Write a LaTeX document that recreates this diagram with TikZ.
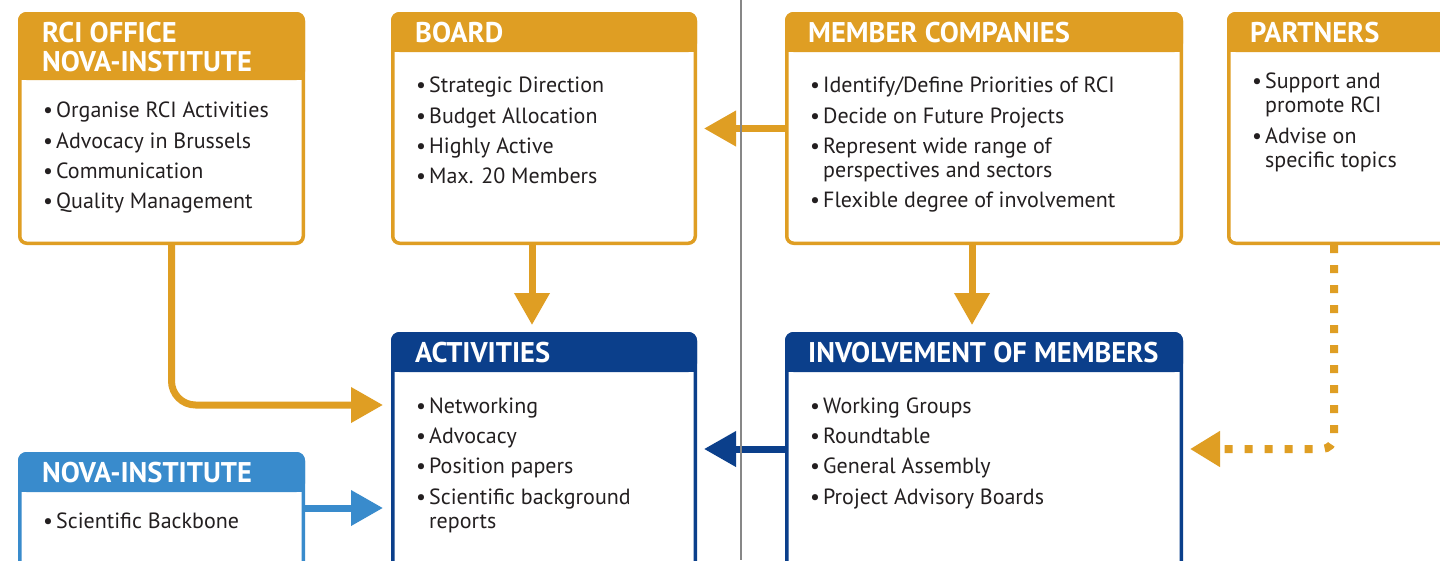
\documentclass[tikz,border=0pt]{standalone}
\usepackage{fontspec}
\setmainfont{PT Sans}
\usetikzlibrary{calc,arrows.meta}
\definecolor{gold}{RGB}{223,158,35}
\definecolor{navy}{RGB}{11,63,139}
\definecolor{sky}{RGB}{57,139,204}
\definecolor{ink}{RGB}{35,31,32}
\definecolor{rulegray}{RGB}{135,135,135}
\tikzset{
  frame/.style={draw=#1, line width=3.5pt, rounded corners=7pt, fill=white, rectangle, inner sep=0pt, anchor=north west},
  head/.style={font=\fontsize{28.5}{30}\selectfont\bfseries, text=white, anchor=base west, inner sep=0pt},
  itm/.style={font=\fontsize{22}{24}\selectfont, text=ink, anchor=base west, inner sep=0pt},
  link/.style={line width=7pt, -{Triangle[length=32pt,width=34pt]}},
}
\newcommand\headfill[3]{%
  \fill[#2, rounded corners=8.5pt] (#1.north west) rectangle ($(#1.north east)+(0,#3)$);
  \fill[#2] ($(#1.north west)+(0,14)$) rectangle ($(#1.north east)+(0,#3)$);}
\newcommand\bitem[4]{\node[itm] (#1) at (#2,#3) {\makebox[13pt][l]{\textbullet}#4};}
\newcommand\citem[4]{\node[itm] (#1) at (#2+13,#3) {#4};}
\begin{document}
\begin{tikzpicture}[x=1pt,y=-1pt]
\useasboundingbox (0,0) rectangle (1440,560);
\clip (0,0) rectangle (1440,560);
\fill[white] (0,0) rectangle (1440,560);

% boxes
\node[frame=gold, minimum width=283.5pt, minimum height=229.5pt] (rci) at (18,12) {};
\headfill{rci}{gold}{68}
\node[frame=gold, minimum width=302.5pt, minimum height=229.5pt] (board) at (391,12) {};
\headfill{board}{gold}{40}
\node[frame=gold, minimum width=394.5pt, minimum height=229.5pt] (member) at (785,12) {};
\headfill{member}{gold}{40}
\node[frame=gold, minimum width=296.5pt, minimum height=229.5pt] (partners) at (1227,12) {};
\headfill{partners}{gold}{40}
\node[frame=navy, minimum width=302.5pt, minimum height=264.5pt] (act) at (391,332) {};
\headfill{act}{navy}{40}
\node[frame=navy, minimum width=394.5pt, minimum height=264.5pt] (inv) at (785,332) {};
\headfill{inv}{navy}{40}
\node[frame=sky, minimum width=283.5pt, minimum height=144.5pt] (nova) at (18,452) {};
\headfill{nova}{sky}{40}

% headers
\node[head] (h1a) at (42,42) {RCI OFFICE};
\node[head] (h1b) at (42,71) {NOVA-INSTITUTE};
\node[head] (h2) at (415,42) {BOARD};
\node[head] (h3) at (808,42) {MEMBER COMPANIES};
\node[head] (h4) at (1250,42) {PARTNERS};
\node[head] (h5) at (415,362) {ACTIVITIES};
\node[head] (h6) at (808,362) {INVOLVEMENT OF MEMBERS};
\node[head] (h7) at (42,482) {NOVA-INSTITUTE};

% items
\bitem{r1}{43}{117}{Organise RCI Activities}
\bitem{r2}{43}{148}{Advocacy in Brussels}
\bitem{r3}{43}{178}{Communication}
\bitem{r4}{43}{208}{Quality Management}

\bitem{b1}{416}{92}{Strategic Direction}
\bitem{b2}{416}{123}{Budget Allocation}
\bitem{b3}{416}{153}{Highly Active}
\bitem{b4}{416}{183}{Max. 20 Members}

\bitem{m1}{810}{92}{Identify/Define Priorities of RCI}
\bitem{m2}{810}{123}{Decide on Future Projects}
\bitem{m3}{810}{153}{Represent wide range of}
\citem{m3b}{810}{177}{perspectives and sectors}
\bitem{m4}{810}{207}{Flexible degree of involvement}

\bitem{p1}{1252}{88}{Support and}
\citem{p1b}{1252}{112}{promote RCI}
\bitem{p2}{1252}{143}{Advise on}
\citem{p2b}{1252}{167}{specific topics}

\bitem{a1}{416}{413}{Networking}
\bitem{a2}{416}{443}{Advocacy}
\bitem{a3}{416}{473}{Position papers}
\bitem{a4}{416}{504}{Scientific background}
\citem{a4b}{416}{528}{reports}

\bitem{i1}{810}{413}{Working Groups}
\bitem{i2}{810}{443}{Roundtable}
\bitem{i3}{810}{473}{General Assembly}
\bitem{i4}{810}{504}{Project Advisory Boards}

\bitem{n1}{43}{528}{Scientific Backbone}

% connectors
\coordinate (yA) at (0,405);
\coordinate (yB) at (0,449);
\coordinate (yC) at (0,508);
\coordinate (xP) at (1334,0);
\draw[link, gold] (member.west) -- ($(board.east)+(7,0)$);
\draw[link, gold] ($(board.south)+(-12,0)$) -- ($(act.north)+(-12,-7)$);
\draw[link, gold] ($(member.south)+(-12,0)$) -- ($(inv.north)+(-12,-7)$);
\draw[link, gold, rounded corners=24pt] ($(rci.south)+(10,0)$) |- ($(act.west |- yA)+(-8,0)$);
\draw[link, sky] (nova.east |- yC) -- ($(act.west |- yC)+(-8,0)$);
\draw[link, navy] (inv.west |- yB) -- ($(act.east |- yB)+(7,0)$);
\draw[gold, line width=8pt, dash pattern=on 8pt off 12pt, rounded corners=12pt,
      -{Triangle[length=30pt,width=34pt]}] (partners.south -| xP) |- ($(inv.east |- yB)+(7,0)$);

% separator
\coordinate (s1) at (741,0);
\coordinate (s2) at (741,560);
\draw[rulegray, line width=1.2pt] (s1) -- (s2);
\end{tikzpicture}
\end{document}
